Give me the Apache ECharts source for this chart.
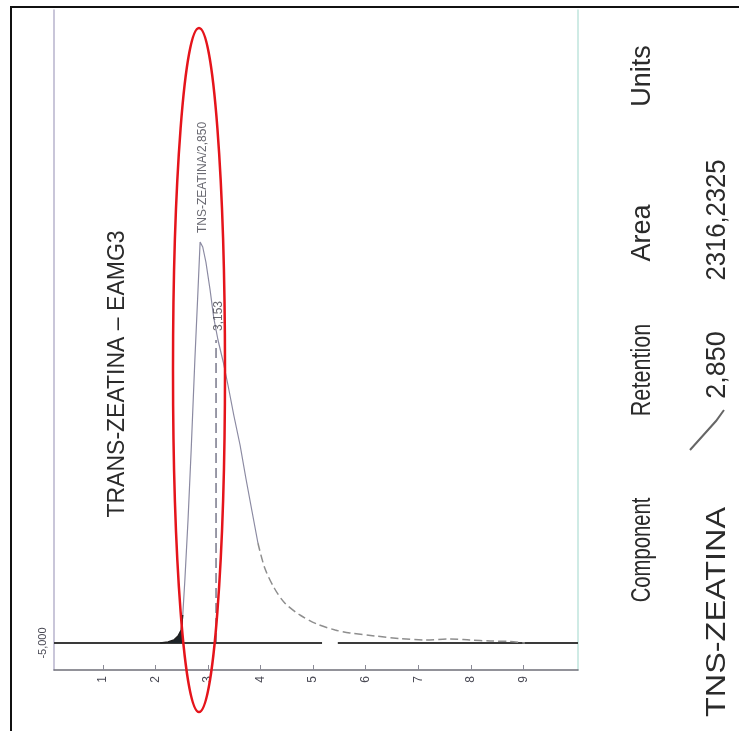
<!DOCTYPE html>
<html>
<head>
<meta charset="utf-8">
<script src="https://cdn.jsdelivr.net/npm/echarts@6/dist/echarts.min.js"></script>
<style>
  html, body { margin: 0; padding: 0; background: #ffffff; }
  #chart { width: 739px; height: 731px; }
</style>
</head>
<body>
<div id="chart"></div>
<script>
// Retention-time axis (min) and signal axis
const timeTicks = [1, 2, 3, 4, 5, 6, 7, 8, 9];
const signalTicks = [-5000];
const timeRange = [0.07, 10.04];
const signalRange = [-7700, 58300];

// Detector baseline (two traced segments with a gap)
const baselineLevel = -5000;
const baselineStart = [0.07, 5.47];
const baselineEnd = [5.17, 10.04];

// Chromatogram trace of the trans-zeatin peak
const peakTime = [2.09, 2.24, 2.35, 2.43, 2.49, 2.52, 2.56, 2.62, 2.68, 2.75, 2.81, 2.85,
  2.90, 2.96, 3.04, 3.11, 3.19, 3.29, 3.38, 3.49, 3.61, 3.72, 3.84, 3.95, 4.08, 4.26,
  4.46, 4.75, 5.07, 5.42, 5.70, 6.18, 6.65, 7.13, 7.60, 7.98, 8.37, 8.75, 9.03];
const peakSignal = [-5000, -4900, -4700, -4300, -3700, -2200, 1300, 7300, 14300, 23300, 30300, 35100,
  34600, 33100, 30300, 27500, 25300, 23100, 20800, 17800, 14800, 11500, 8100, 5000, 2500, 500,
  -1000, -2200, -3100, -3700, -4000, -4300, -4550, -4700, -4600, -4700, -4800, -4850, -5000];
const shadedUntil = 2.52;   // dark integration fill on the leading edge
const tailFrom = 3.95;      // faded (dashed) tail of the peak

// Peak markers
const markerNames = ['TNS-ZEATINA/2,850', '3,153'];
const markerTime = [2.850, 3.153];
const markerSignal = [35100, 25300];

// Texts
const chartTitle = 'TRANS-ZEATINA – EAMG3';
const tableHeader = ['Component', 'Retention', 'Area', 'Units'];
const tableRow = ['TNS-ZEATINA', '2,850', '2316,2325'];

const pairs = (xs, ys) => xs.map((x, i) => [x, ys[i]]);
const peakPoints = pairs(peakTime, peakSignal);
const headPoints = peakPoints.filter(p => p[0] <= shadedUntil);
const bodyPoints = peakPoints.filter(p => p[0] >= shadedUntil && p[0] <= tailFrom);
const tailPoints = peakPoints.filter(p => p[0] >= tailFrom);

const baselineSeries = baselineStart.map((s, i) => ({
  type: 'line', silent: true, symbol: 'none', z: 3,
  data: [[s, baselineLevel], [baselineEnd[i], baselineLevel]],
  lineStyle: { color: '#3a3a3a', width: 2 }
}));

const markerLines = markerTime.slice(1).map((t, i) => ({
  type: 'line', silent: true, symbol: 'none', z: 2,
  data: [[t, baselineLevel], [t, markerSignal[i + 1]]],
  lineStyle: { color: '#77778a', width: 1.5, type: [10, 5] }
}));

const rot = Math.PI / 2;
// rotated text, read bottom-to-top; squeeze condenses along the reading direction
const sideText = (txt, x, y, size, squeeze) => ({
  type: 'text', x: x, y: y, rotation: rot, scaleX: squeeze || 1, silent: true,
  style: {
    text: txt, fill: '#2b2b2b', align: 'center', verticalAlign: 'middle',
    font: size + 'px "Liberation Sans", Arial, sans-serif'
  }
});

const chart = echarts.init(document.getElementById('chart'), null, { renderer: 'canvas' });
chart.setOption({
  animation: false,
  backgroundColor: '#ffffff',
  grid: { left: 54, right: 161, top: 10, bottom: 61 },
  xAxis: {
    type: 'value', min: timeRange[0], max: timeRange[1],
    axisLine: { show: true, onZero: false, lineStyle: { color: '#6f6f78', width: 1.5 } },
    axisTick: { show: true, inside: true, length: 5, customValues: timeTicks, lineStyle: { color: '#8a8a96' } },
    axisLabel: {
      customValues: timeTicks, rotate: 90, margin: 6, color: '#4a4a55', fontSize: 12,
      fontFamily: 'Liberation Sans, Arial, sans-serif'
    },
    splitLine: { show: false }
  },
  yAxis: [{
    type: 'value', min: signalRange[0], max: signalRange[1],
    axisLine: { show: true, onZero: false, lineStyle: { color: '#b7b3cc', width: 1.5 } },
    axisTick: { show: false },
    axisLabel: {
      customValues: signalTicks, rotate: 90, margin: 6, color: '#4a4a55', fontSize: 11,
      fontFamily: 'Liberation Sans, Arial, sans-serif',
      formatter: v => v.toLocaleString('en-US')
    },
    splitLine: { show: false }
  }, {
    type: 'value', position: 'right', min: signalRange[0], max: signalRange[1],
    axisLine: { show: true, onZero: false, lineStyle: { color: '#bfe4dd', width: 1.5 } },
    axisTick: { show: false }, axisLabel: { show: false }, splitLine: { show: false }
  }],
  series: [
    ...baselineSeries,
    {
      type: 'line', silent: true, symbol: 'none', z: 4, data: headPoints,
      lineStyle: { color: '#202020', width: 1.5 },
      areaStyle: { color: '#1d2428', opacity: 1, origin: baselineLevel }
    },
    {
      type: 'line', silent: true, symbol: 'none', z: 4, data: bodyPoints,
      lineStyle: { color: '#8b8aa2', width: 1.2 }
    },
    {
      type: 'line', silent: true, symbol: 'none', z: 4, data: tailPoints, smooth: 0.3,
      lineStyle: { color: '#8e8e8e', width: 1.5, type: [8, 4] }
    },
    ...markerLines,
    {
      type: 'scatter', silent: true, symbolSize: 0, z: 5,
      data: markerTime.map((t, i) => ({ value: [t, markerSignal[i]], name: markerNames[i] })),
      label: {
        show: true, position: 'top', distance: 9, rotate: 90, align: 'left', verticalAlign: 'middle',
        offset: [0, 3],
        formatter: p => p.name, color: '#45454f', fontSize: 12,
        fontFamily: 'Liberation Sans, Arial, sans-serif'
      }
    }
  ],
  graphic: [
    // outer frame
    { type: 'line', silent: true, shape: { x1: 10, y1: 7, x2: 739, y2: 7 }, style: { stroke: '#111', lineWidth: 2 } },
    { type: 'line', silent: true, shape: { x1: 11, y1: 7, x2: 11, y2: 731 }, style: { stroke: '#111', lineWidth: 2 } },
    // chart title
    sideText(chartTitle, 118, 374, 23),
    // component table
    sideText(tableHeader[0], 643, 550, 27, 0.75),
    sideText(tableHeader[1], 643, 370, 27, 0.8),
    sideText(tableHeader[2], 643, 233, 27),
    sideText(tableHeader[3], 643, 76, 27),
    sideText(tableRow[0], 718, 612, 27, 1.2),
    sideText(tableRow[1], 718, 365, 27),
    sideText(tableRow[2], 718, 220, 27, 0.95),
    { type: 'polyline', silent: true, shape: { points: [[690, 450], [716, 421], [724, 410]] },
      style: { stroke: '#666', lineWidth: 2, fill: null } },
    // highlight around the peak
    { type: 'ellipse', silent: true, z: 100, shape: { cx: 199, cy: 370, rx: 26, ry: 342 },
      style: { fill: null, stroke: '#e5141b', lineWidth: 2.5 } }
  ]
});
</script>
</body>
</html>
